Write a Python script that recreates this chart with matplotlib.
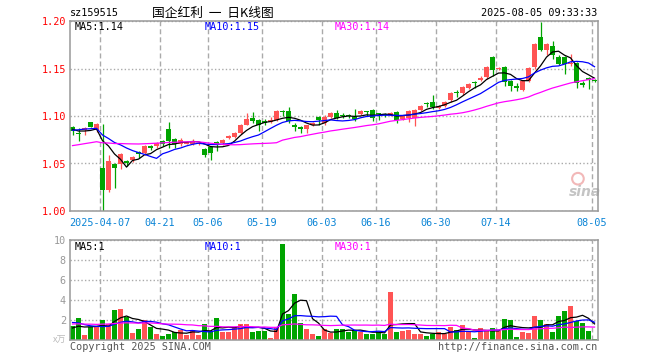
import numpy as np
import pandas as pd
import matplotlib
matplotlib.use("Agg")
import matplotlib.pyplot as plt

# 交易日 2025-03-28 .. 2025-08-05
dates = ["03-28", "03-31", "04-01", "04-02", "04-03", "04-07", "04-08", "04-09", "04-10", "04-11",
         "04-14", "04-15", "04-16", "04-17", "04-18", "04-21", "04-22", "04-23", "04-24", "04-25",
         "04-28", "04-29", "04-30", "05-06", "05-07", "05-08", "05-09", "05-12", "05-13", "05-14",
         "05-15", "05-16", "05-19", "05-20", "05-21", "05-22", "05-23", "05-26", "05-27", "05-28",
         "05-29", "05-30", "06-03", "06-04", "06-05", "06-06", "06-09", "06-10", "06-11", "06-12",
         "06-13", "06-16", "06-17", "06-18", "06-19", "06-20", "06-23", "06-24", "06-25", "06-26",
         "06-27", "06-30", "07-01", "07-02", "07-03", "07-04", "07-07", "07-08", "07-09", "07-10",
         "07-11", "07-14", "07-15", "07-16", "07-17", "07-18", "07-21", "07-22", "07-23", "07-24",
         "07-25", "07-28", "07-29", "07-30", "07-31", "08-01", "08-04", "08-05"]

opens = [1.088, 1.082, 1.085, 1.094, 1.085, 1.045, 1.022, 1.050, 1.049, 1.053,
         1.054, 1.062, 1.061, 1.068, 1.068, 1.074, 1.086, 1.076, 1.070, 1.071,
         1.070, 1.070, 1.065, 1.067, 1.073, 1.072, 1.077, 1.078, 1.082, 1.091,
         1.098, 1.096, 1.095, 1.094, 1.096, 1.105, 1.105, 1.091, 1.088, 1.086,
         1.090, 1.099, 1.093, 1.099, 1.103, 1.101, 1.101, 1.099, 1.102, 1.105,
         1.106, 1.103, 1.102, 1.101, 1.104, 1.097, 1.098, 1.098, 1.106, 1.114,
         1.115, 1.108, 1.111, 1.117, 1.125, 1.124, 1.130, 1.136, 1.138, 1.141,
         1.162, 1.149, 1.152, 1.137, 1.132, 1.127, 1.137, 1.152, 1.183, 1.170,
         1.174, 1.162, 1.162, 1.155, 1.156, 1.135, 1.140, 1.138]
highs = [1.089, 1.087, 1.088, 1.094, 1.093, 1.092, 1.059, 1.050, 1.061, 1.054,
         1.058, 1.063, 1.069, 1.069, 1.073, 1.075, 1.094, 1.077, 1.077, 1.074,
         1.076, 1.073, 1.066, 1.068, 1.074, 1.076, 1.080, 1.083, 1.092, 1.103,
         1.104, 1.097, 1.097, 1.099, 1.106, 1.106, 1.109, 1.093, 1.089, 1.091,
         1.094, 1.100, 1.101, 1.104, 1.106, 1.103, 1.102, 1.107, 1.106, 1.105,
         1.107, 1.103, 1.103, 1.104, 1.105, 1.101, 1.106, 1.107, 1.112, 1.115,
         1.122, 1.112, 1.116, 1.125, 1.127, 1.132, 1.135, 1.137, 1.142, 1.153,
         1.163, 1.152, 1.153, 1.138, 1.135, 1.138, 1.152, 1.177, 1.199, 1.177,
         1.179, 1.164, 1.163, 1.165, 1.157, 1.137, 1.141, 1.139]
lows = [1.080, 1.074, 1.080, 1.088, 1.083, 1.000, 1.020, 1.024, 1.044, 1.047,
        1.052, 1.056, 1.059, 1.064, 1.066, 1.068, 1.066, 1.066, 1.068, 1.070,
        1.069, 1.069, 1.057, 1.054, 1.063, 1.069, 1.076, 1.077, 1.081, 1.090,
        1.093, 1.084, 1.091, 1.093, 1.095, 1.100, 1.093, 1.084, 1.082, 1.082,
        1.089, 1.091, 1.091, 1.098, 1.097, 1.098, 1.098, 1.095, 1.101, 1.100,
        1.095, 1.096, 1.099, 1.100, 1.093, 1.096, 1.094, 1.089, 1.105, 1.109,
        1.107, 1.107, 1.109, 1.115, 1.120, 1.122, 1.128, 1.129, 1.137, 1.139,
        1.142, 1.148, 1.132, 1.126, 1.126, 1.126, 1.136, 1.150, 1.168, 1.164,
        1.160, 1.154, 1.144, 1.153, 1.130, 1.131, 1.128, 1.136]
closes = [1.084, 1.081, 1.087, 1.088, 1.092, 1.022, 1.053, 1.045, 1.060, 1.051,
          1.057, 1.060, 1.068, 1.066, 1.072, 1.070, 1.074, 1.070, 1.075, 1.073,
          1.074, 1.072, 1.059, 1.061, 1.071, 1.075, 1.079, 1.082, 1.091, 1.097,
          1.095, 1.090, 1.093, 1.096, 1.105, 1.104, 1.095, 1.088, 1.086, 1.090,
          1.093, 1.096, 1.099, 1.103, 1.098, 1.100, 1.100, 1.097, 1.105, 1.104,
          1.098, 1.102, 1.101, 1.103, 1.096, 1.100, 1.105, 1.106, 1.111, 1.113,
          1.109, 1.111, 1.115, 1.124, 1.124, 1.131, 1.134, 1.135, 1.140, 1.152,
          1.148, 1.151, 1.136, 1.132, 1.130, 1.137, 1.151, 1.176, 1.170, 1.176,
          1.164, 1.155, 1.155, 1.156, 1.135, 1.133, 1.138, 1.137]
# 成交量(万)
volumes = [1.4, 2.2, 0.5, 1.3, 1.4, 2.0, 1.6, 3.0, 3.1, 2.3,
           0.75, 1.1, 2.0, 1.35, 0.6, 0.4, 0.6, 0.85, 1.05, 0.5,
           1.05, 0.5, 1.6, 0.9, 2.2, 0.85, 0.85, 1.35, 1.6, 1.6,
           0.85, 0.9, 0.9, 0.25, 1.35, 9.6, 2.6, 4.6, 1.75, 1.1,
           0.6, 0.4, 1.1, 0.75, 1.15, 1.1, 0.85, 1.0, 0.85, 0.6,
           0.6, 0.85, 0.65, 4.8, 0.85, 0.9, 1.0, 0.65, 0.65, 0.4,
           0.65, 0.85, 0.65, 1.35, 1.0, 1.5, 0.9, 0.25, 1.25, 0.9,
           1.25, 0.9, 2.1, 2.0, 0.35, 0.85, 0.75, 2.4, 2.0, 1.6,
           0.85, 2.4, 2.9, 3.4, 1.9, 1.75, 0.9, 0.1]

# 窗口之前的29个交易日(估计值, 只用于均线)
pre_close = [1.052, 1.055, 1.058, 1.060, 1.057, 1.059, 1.062, 1.060, 1.058, 1.061,
             1.063, 1.060, 1.058, 1.062, 1.060, 1.062, 1.064, 1.066, 1.068, 1.070,
             1.076, 1.080, 1.084, 1.088, 1.092, 1.090, 1.087, 1.085, 1.084]
pre_vol = [1.8, 1.2, 1.5, 2.1, 1.3, 1.0, 1.6, 1.9, 1.4, 1.2,
           1.7, 1.5, 1.3, 1.6, 2.0, 1.4, 1.1, 1.5, 1.8, 1.6,
           2.6, 2.2, 2.5, 2.0, 2.2, 1.3, 0.9, 1.2, 1.2]

date_ticks = ["04-07", "04-21", "05-06", "05-19", "06-03", "06-16", "06-30", "07-14", "08-05"]
tick_names = ["2025-04-07", "04-21", "05-06", "05-19", "06-03", "06-16", "06-30", "07-14", "08-05"]

RED = "#ff5454"
GREEN = "#00a400"
GRID = "#aaaaaa"
MONO = "DejaVu Sans Mono"
CJK = ["Noto Sans CJK SC", "DejaVu Sans"]

n = len(closes)
x = np.arange(n)
o = np.array(opens); h = np.array(highs); l = np.array(lows); c = np.array(closes)
up = c >= o

cs = pd.Series(pre_close + closes)
vs = pd.Series(pre_vol + volumes)
k = len(pre_close)
ma = {p: cs.rolling(p).mean().values[k:] for p in (5, 10, 30)}
vma = {p: vs.rolling(p).mean().values[k:] for p in (5, 10, 30)}
ma_colors = {5: "black", 10: "#0000ff", 30: "#ff00ff"}

W, H = 660, 360
fig = plt.figure(figsize=(6.6, 3.6), dpi=100)
ax = fig.add_axes([70 / W, 1 - 211 / H, 528 / W, 190 / H])
axv = fig.add_axes([70 / W, 1 - 340 / H, 528 / W, 100 / H])

gx = [dates.index(d) - 0.42 for d in date_ticks]

for a in (ax, axv):
    a.set_xlim(-0.42, n - 0.42)
    a.set_xticks(gx)
    a.xaxis.grid(True, color=GRID, ls=(0, (3.6, 2.2)), lw=1.0)
    a.yaxis.grid(True, color=GRID, ls=(0, (1, 1.6)), lw=1.0)
    a.set_axisbelow(True)
    a.tick_params(length=0)
    for s in a.spines.values():
        s.set_color("#999999")
        s.set_linewidth(1.1)

# K线
ax.vlines(x, l, h, colors=np.where(up, RED, GREEN), lw=0.9, zorder=2)
body = np.maximum(np.abs(c - o), 0.0007)
ax.bar(x, body, bottom=np.minimum(o, c), width=0.75, color=np.where(up, RED, GREEN), zorder=2)
for p in (5, 10, 30):
    ax.plot(x, ma[p], color=ma_colors[p], lw=0.9, zorder=3)

ax.set_ylim(1.0, 1.2)
ax.set_yticks([1.00, 1.05, 1.10, 1.15, 1.20])
ax.set_yticklabels(["%.2f" % v for v in [1.00, 1.05, 1.10, 1.15, 1.20]],
                   color="red", fontsize=7.3, family=MONO)
ax.set_xticklabels(tick_names, color="#0a84d6", fontsize=7.3, family=MONO)
ax.tick_params(axis="x", pad=5)
ax.tick_params(axis="y", pad=3)

# sina 水印
ax.scatter([0.962], [0.17], s=70, marker="o", facecolors="none", edgecolors="#f2b8b8",
           linewidths=1.5, transform=ax.transAxes, zorder=1)
ax.text(0.975, 0.10, "sina", transform=ax.transAxes, fontsize=10, color="#c4c4c4",
        ha="center", va="center", style="italic", fontweight="bold", zorder=1)

# 成交量
axv.bar(x, volumes, width=0.8, color=np.where(up, RED, GREEN), zorder=2)
for p in (5, 10, 30):
    axv.plot(x, vma[p], color=ma_colors[p], lw=0.9, zorder=3)
axv.set_ylim(0, 10)
axv.set_yticks([2, 4, 6, 8, 10])
axv.set_yticklabels(["2", "4", "6", "8", "10"], color="#999999", fontsize=7.3, family=MONO)
axv.set_xticklabels([])
axv.tick_params(axis="y", pad=3)

def px(xp, yp, s, **kw):
    fig.text(xp / W, 1 - yp / H, s, va="center", **kw)

px(70, 13, "sz159515", family=MONO, fontsize=7.3)
px(213, 13, "国企红利  一  日K线图", family=CJK, fontsize=9.2, ha="center")
px(597, 13, "2025-08-05 09:33:33", family=MONO, fontsize=7.3, ha="right")

for xp, p in ((75, 5), (205, 10), (335, 30)):
    px(xp, 27, "MA%d:%.2f" % (p, ma[p][-1]), family=MONO, fontsize=7.3, color=ma_colors[p])
    px(xp, 247, "MA%d:%d" % (p, int(vma[p][-1])), family=MONO, fontsize=7.3, color=ma_colors[p])

px(66, 340, "x万", family=CJK, fontsize=6.5, ha="right", color="#bbbbbb")
px(70, 347, "Copyright 2025 SINA.COM", family=MONO, fontsize=7.3, color="#555555")
px(597, 347, "http://finance.sina.com.cn", family=MONO, fontsize=7.3, color="#555555", ha="right")

fig.savefig("out.png", dpi=100)
